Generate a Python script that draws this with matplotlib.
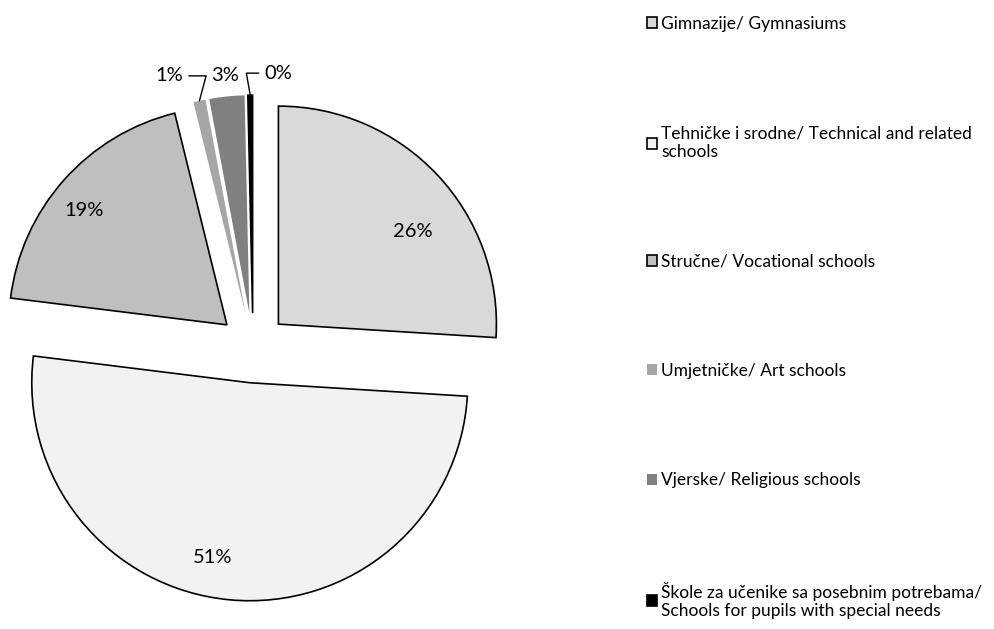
import numpy as np
import matplotlib.pyplot as plt

plt.rcParams['font.family'] = ['Lato', 'DejaVu Sans']

labels = ['Gimnazije/ Gymnasiums',
          'Tehničke i srodne/ Technical and related\nschools',
          'Stručne/ Vocational schools',
          'Umjetničke/ Art schools',
          'Vjerske/ Religious schools',
          'Škole za učenike sa posebnim potrebama/\nSchools for pupils with special needs']
shares = [26.0, 51.0, 19.2, 0.9, 2.6, 0.35]
colors = ['#d9d9d9', '#f2f2f2', '#bfbfbf', '#a6a6a6', '#808080', '#000000']
edges = ['black', 'black', 'black', 'none', 'none', 'black']

fig = plt.figure(figsize=(9.94, 6.29), dpi=100)
R = 218.0
cx, cy = 253.0, 348.0
ax = fig.add_axes([0, 0, 520 / 994, 1])

wedges, _ = ax.pie(shares, colors=colors, startangle=90, counterclock=False,
                   explode=[0.16] * len(shares), radius=1.0,
                   wedgeprops=dict(linewidth=1.2))
for w, ec in zip(wedges, edges):
    w.set_edgecolor(ec)
    if ec == 'none':
        w.set_linewidth(0)

ax.set_xlim(-cx / R, (520 - cx) / R)
ax.set_ylim(-(629 - cy) / R, cy / R)
ax.set_aspect('auto')
ax.axis('off')

total = sum(shares)
# inside labels: (radius fraction, angle shift in degrees) - "best fit" placement
inside_pos = {0: (0.75, -8.6), 1: (0.82, -6.6), 2: (0.84, 3.0)}
# offsets (pixels) for the outside labels of the thin slices
small_off = {3: (-30, 25), 4: (-2, 21), 5: (28, 22)}
for i, w in enumerate(wedges):
    mid = (w.theta1 + w.theta2) / 2
    x0, y0 = w.center
    txt = '%.0f%%' % (shares[i] / total * 100)
    if i in small_off:
        a = np.deg2rad(mid)
        tip = (x0 + w.r * np.cos(a), y0 + w.r * np.sin(a))
        dx, dy = small_off[i]
        arrow = None
        if i != 4:
            arrow = dict(arrowstyle='-', lw=1.0, color='black',
                         shrinkA=2, shrinkB=0,
                         connectionstyle='angle,angleA=0,angleB=%d,rad=0' % (75 if dx < 0 else 100))
        ax.annotate(txt, xy=tip, xytext=(dx, dy), textcoords='offset pixels',
                    ha='center', va='center', fontsize=14.5, arrowprops=arrow)
    else:
        fr, da = inside_pos[i]
        a = np.deg2rad(mid + da)
        ax.text(x0 + fr * w.r * np.cos(a), y0 + fr * w.r * np.sin(a), txt,
                ha='center', va='center', fontsize=14.5)

fig.legend(wedges, labels, loc='upper left', bbox_to_anchor=(640 / 994, 1 - 9 / 629),
           frameon=False, fontsize=12.5, handlelength=0.6, handleheight=0.6,
           handletextpad=0.22, labelspacing=5.38, borderaxespad=0)

fig.savefig('out.png', dpi=100)
